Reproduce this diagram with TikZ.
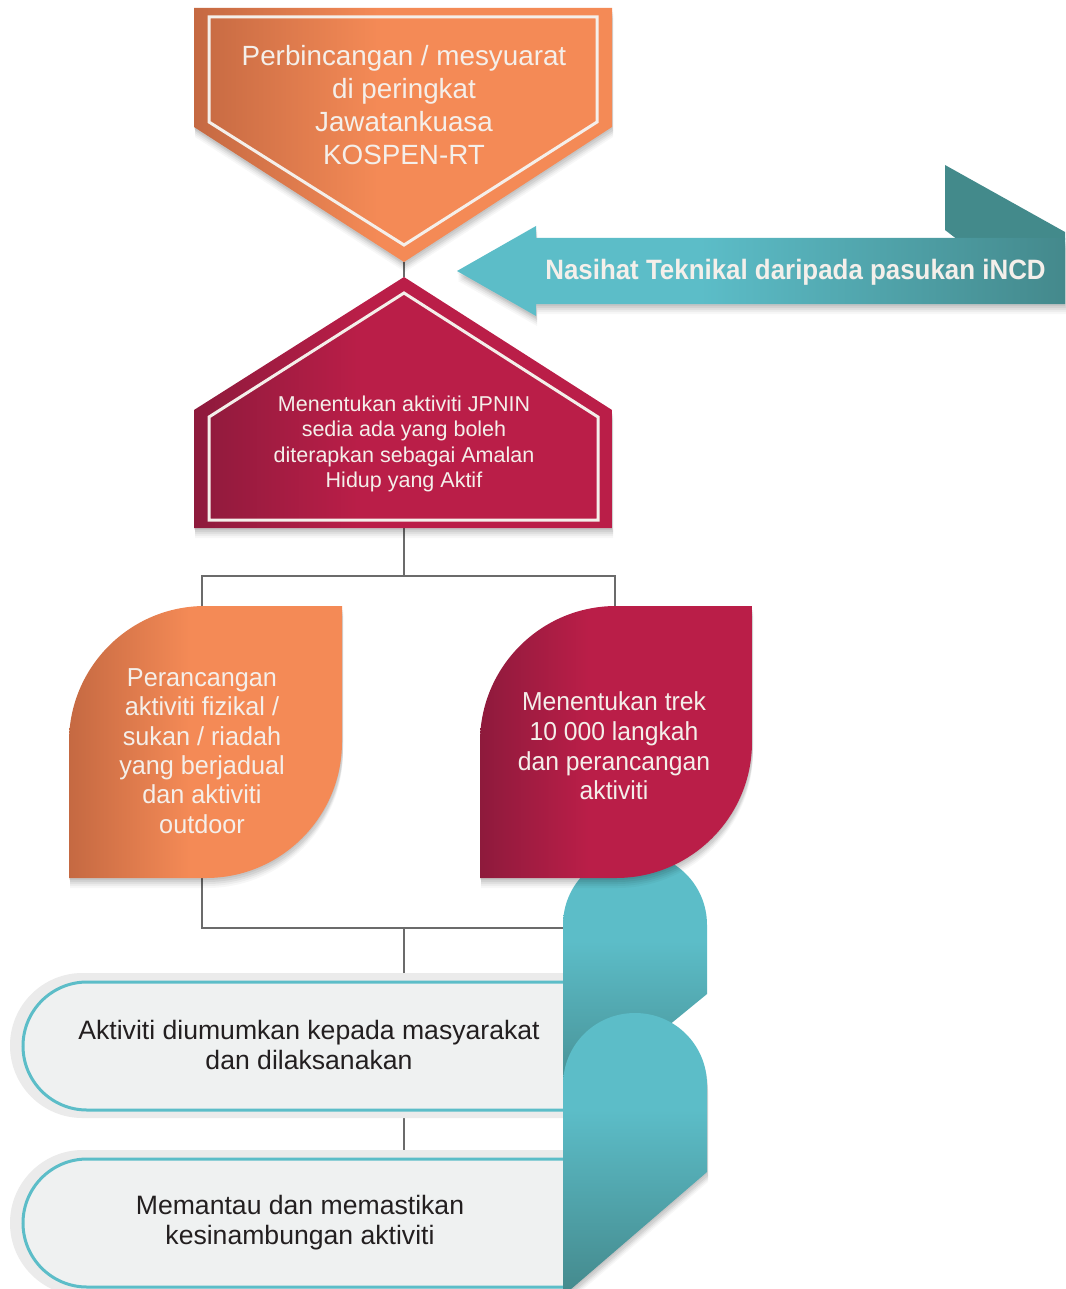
\documentclass[tikz,border=0pt]{standalone}
\usepackage{fontspec}
\setmainfont{Liberation Sans}
\newfontfamily\condf[FakeStretch=0.97]{Liberation Sans}
\newfontfamily\condg[FakeStretch=0.95]{Liberation Sans}
\newfontfamily\arrowf[FakeStretch=0.925]{Liberation Sans}
\usetikzlibrary{shadows}
\definecolor{orL}{HTML}{C56942}
\definecolor{orR}{HTML}{F48A56}
\definecolor{rdL}{HTML}{8E1A3C}
\definecolor{rdR}{HTML}{BA1E48}
\definecolor{tlL}{HTML}{5CBDC8}
\definecolor{tlD}{HTML}{44898C}
\definecolor{foldc}{HTML}{438A8B}
\definecolor{pillbg}{HTML}{EFF1F1}
\definecolor{haloc}{HTML}{EBEBEB}
\definecolor{txtw}{HTML}{F4EFEA}
\definecolor{txtd}{HTML}{231F20}
\definecolor{linec}{HTML}{6B6B6B}
\pgfdeclarehorizontalshading{orsh}{100bp}{color(0bp)=(orL); color(25bp)=(orL); color(47bp)=(orR); color(100bp)=(orR)}
\pgfdeclarehorizontalshading{rdsh}{100bp}{color(0bp)=(rdL); color(25bp)=(rdL); color(45bp)=(rdR); color(100bp)=(rdR)}
\pgfdeclarehorizontalshading{arsh}{100bp}{color(0bp)=(tlL); color(45bp)=(tlL); color(75bp)=(tlD); color(100bp)=(tlD)}
\pgfdeclareverticalshading{tlsh}{100bp}{color(0bp)=(tlD); color(25bp)=(tlD); color(58bp)=(tlL); color(100bp)=(tlL)}
\tikzset{
  conn/.style={draw=linec, line width=2.5pt},
  shad/.style={
    drop shadow={shadow xshift=1pt, shadow yshift=-10pt, opacity=0.03, fill=black},
    drop shadow={shadow xshift=1pt, shadow yshift=-8pt, opacity=0.04, fill=black},
    drop shadow={shadow xshift=1pt, shadow yshift=-6pt, opacity=0.05, fill=black},
    drop shadow={shadow xshift=1pt, shadow yshift=-4pt, opacity=0.06, fill=black},
    drop shadow={shadow xshift=0pt, shadow yshift=-2pt, opacity=0.06, fill=black}},
  outline/.style={draw=txtw, line width=3pt},
  wtext/.style={text=txtw, align=center, inner sep=0pt},
  dtext/.style={text=txtd, align=center, inner sep=0pt},
}
\begin{document}
\begin{tikzpicture}[x=1pt,y=-1pt]
\useasboundingbox (0,0) rectangle (1065,1289);
\fill[white] (0,0) rectangle (1065,1289);

% connector coordinates
\coordinate (p1tip) at (404,262);
\coordinate (p2top) at (404,277);
\coordinate (p2bot) at (404,528);
\coordinate (split) at (404,576);
\coordinate (splitL) at (202,576);
\coordinate (splitR) at (615,576);
\coordinate (leafLtop) at (202,606);
\coordinate (leafRtop) at (615,606);
\coordinate (leafLbot) at (202,878);
\coordinate (joinL) at (202,928);
\coordinate (joinR) at (563,928);
\coordinate (join) at (404,928);
\coordinate (pill1top) at (404,973);
\coordinate (pill1bot) at (404,1118);
\coordinate (pill2top) at (404,1150);

\draw[conn] (p1tip) -- (p2top);
\draw[conn] (p2bot) -- (split);
\draw[conn] (leafLtop) -- (splitL) -- (splitR) -- (leafRtop);
\draw[conn] (leafLbot) -- (joinL) -- (joinR);
\draw[conn] (join) -- (pill1top);
\draw[conn] (pill1bot) -- (pill2top);

% top pentagon
\path[shading=orsh, shad] (194,8) -- (612,8) -- (612,127) -- (404,262) -- (194,127) -- cycle;
\draw[outline] (209,17) -- (597,17) -- (597,122) -- (404,245) -- (209,122) -- cycle;
\node[wtext, font=\fontsize{27.8}{33}\selectfont] (t1) at (404,105)
  {Perbincangan / mesyuarat\\di peringkat\\Jawatankuasa\\KOSPEN-RT};

% arrow with fold
\fill[foldc] (945,165) -- (1065,232) -- (1065,240) -- (958,240) -- (945,230) -- cycle;
\path[shading=arsh, shad] (457,271) -- (536,226) -- (536,238) -- (1065,238) -- (1065,304) -- (536,304) -- (536,316) -- cycle;
\node[text=txtw, inner sep=0pt, font=\arrowf\bfseries\fontsize{28}{30}\selectfont] (t2) at (795.5,272)
  {Nasihat Teknikal daripada pasukan iNCD};

% red house
\path[shading=rdsh, shad] (404,277) -- (612,410) -- (612,528) -- (194,528) -- (194,410) -- cycle;
\draw[outline] (404,293) -- (598,417) -- (598,520) -- (209,520) -- (209,417) -- cycle;
\node[wtext, font=\fontsize{21.5}{25.5}\selectfont] (t3) at (404,444)
  {Menentukan aktiviti JPNIN\\sedia ada yang boleh\\diterapkan sebagai Amalan\\Hidup yang Aktif};

% left leaf
\path[shading=orsh, shad] (69,878) -- (69,742) .. controls (69,667) and (130,606) .. (205,606)
  -- (342,606) -- (342,742) .. controls (342,817) and (281,878) .. (206,878) -- cycle;
\node[wtext, font=\condf\fontsize{26}{29.3}\selectfont] (t4) at (202,751)
  {Perancangan\\aktiviti fizikal /\\sukan / riadah\\yang berjadual\\dan aktiviti\\outdoor};

% pills
\fill[haloc] (563,973) -- (82.5,973) .. controls (42.5,973) and (10,1005.5) .. (10,1045.5)
  .. controls (10,1085.5) and (42.5,1118) .. (82.5,1118) -- (563,1118) -- cycle;
\path[fill=pillbg, draw=tlL, line width=3pt] (563,982) -- (87,982) .. controls (51.7,982) and (23,1010.7) .. (23,1046)
  .. controls (23,1081.3) and (51.7,1110) .. (87,1110) -- (563,1110);
\node[dtext, font=\fontsize{26.6}{30.5}\selectfont] (t6) at (309,1045)
  {Aktiviti diumumkan kepada masyarakat\\dan dilaksanakan};

\fill[haloc] (563,1150) -- (83,1150) .. controls (42.7,1150) and (10,1182.7) .. (10,1223)
  .. controls (10,1263.3) and (42.7,1296) .. (83,1296) -- (563,1296) -- cycle;
\path[fill=pillbg, draw=tlL, line width=3pt] (563,1159) -- (87,1159) .. controls (51.7,1159) and (23,1187.7) .. (23,1223)
  .. controls (23,1258.3) and (51.7,1287) .. (87,1287) -- (563,1287);
\node[dtext, font=\fontsize{26.6}{30.5}\selectfont] (t7) at (300,1222.5)
  {Memantau dan memastikan\\kesinambungan aktiviti};

% teal shapes
\path[shading=tlsh] (563,1112) -- (563,925) .. controls (563,885) and (595,853) .. (635,853)
  .. controls (675,853) and (707,885) .. (707,925) -- (707,994) -- cycle;
\path[shading=tlsh, shad] (563,1296) -- (563,1085) .. controls (563,1045) and (595,1013) .. (635,1013)
  .. controls (675,1013) and (707,1045) .. (707,1085) -- (707,1172) -- cycle;

% right leaf
\path[shading=rdsh, shad] (480,878) -- (480,742) .. controls (480,667) and (541,606) .. (616,606)
  -- (752,606) -- (752,742) .. controls (752,817) and (691,878) .. (616,878) -- cycle;
\node[wtext, font=\condg\fontsize{26}{29.7}\selectfont] (t5) at (614,746)
  {Menentukan trek\\10 000 langkah\\dan perancangan\\aktiviti};
\end{tikzpicture}
\end{document}
